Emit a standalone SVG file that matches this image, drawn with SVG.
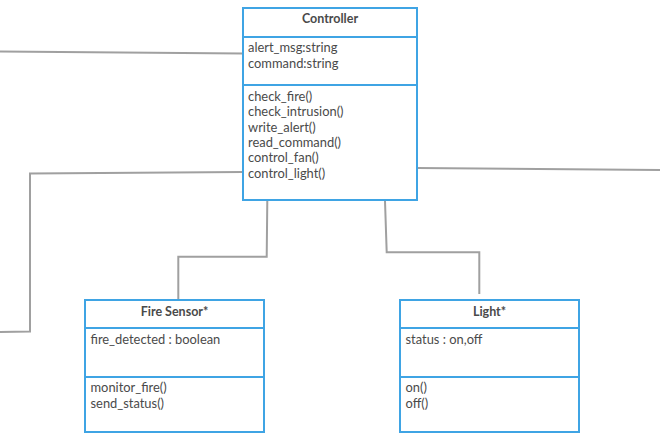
<svg xmlns="http://www.w3.org/2000/svg" width="660" height="440" viewBox="0 0 660 440">
<style>
.box{fill:#fff;stroke:#3fa4e4;stroke-width:2}
.div{stroke:#3fa4e4;stroke-width:2}
.t{font-family:Lato,"Liberation Sans",sans-serif;font-size:12.9px;fill:#4a4a4a}
.h{font-family:Lato,"Liberation Sans",sans-serif;font-size:12.5px;font-weight:bold;fill:#4a4a4a;text-anchor:middle}
.c{fill:none;stroke:#a0a0a0;stroke-width:2}
</style>
<rect width="660" height="440" fill="#fff"/>
<g id="connectors">
<path class="c" d="M0,51.5 L243,53.5"/>
<path class="c" d="M0,332 L30,331.5 L30,173.5 L243,172"/>
<path class="c" d="M417,168 L660,170"/>
<path class="c" d="M267.3,201 L266.7,256.7 L178.3,256.7 L178.3,300"/>
<path class="c" d="M385,201 L386.7,252.3 L479.3,252.3 L479.3,294"/>
</g>
<g id="controller">
<rect class="box" x="243" y="8" width="174" height="192"/>
<line class="div" x1="243" y1="37" x2="417" y2="37"/>
<line class="div" x1="243" y1="85" x2="417" y2="85"/>
<text class="h" x="330" y="23">Controller</text>
<text class="t" x="248" y="52">alert_msg:string</text>
<text class="t" x="248" y="67.5">command:string</text>
<text class="t" x="248" y="101">check_fire()</text>
<text class="t" x="248" y="116.3">check_intrusion()</text>
<text class="t" x="248" y="131.6">write_alert()</text>
<text class="t" x="248" y="146.9">read_command()</text>
<text class="t" x="248" y="162.2">control_fan()</text>
<text class="t" x="248" y="177.5">control_light()</text>
</g>
<g id="fire-sensor">
<rect class="box" x="85" y="300" width="179" height="132"/>
<line class="div" x1="85" y1="328" x2="264" y2="328"/>
<line class="div" x1="85" y1="377" x2="264" y2="377"/>
<text class="h" x="174.5" y="316">Fire Sensor*</text>
<text class="t" x="90.5" y="344">fire_detected : boolean</text>
<text class="t" x="90.5" y="392">monitor_fire()</text>
<text class="t" x="90.5" y="407.5">send_status()</text>
</g>
<g id="light">
<rect class="box" x="400" y="300" width="179" height="132"/>
<line class="div" x1="400" y1="328" x2="579" y2="328"/>
<line class="div" x1="400" y1="377" x2="579" y2="377"/>
<text class="h" x="489.5" y="316">Light*</text>
<text class="t" x="405.5" y="344">status : on,off</text>
<text class="t" x="405.5" y="392">on()</text>
<text class="t" x="405.5" y="407.5">off()</text>
</g>
</svg>
